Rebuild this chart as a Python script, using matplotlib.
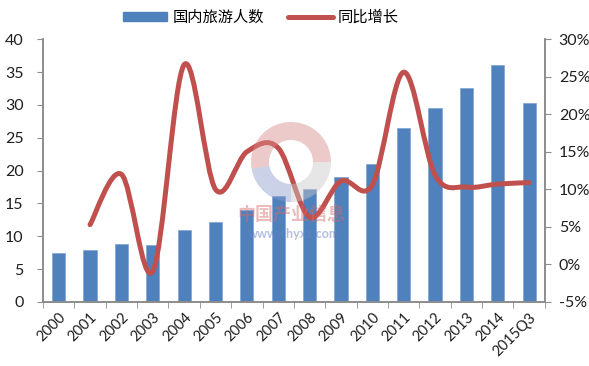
import numpy as np
import matplotlib.pyplot as plt
from matplotlib.path import Path
from matplotlib.patches import PathPatch, Wedge, Patch
from matplotlib.lines import Line2D

plt.rcParams['font.family'] = ['Lato', 'Noto Sans CJK SC', 'DejaVu Sans']

years = ['2000', '2001', '2002', '2003', '2004', '2005', '2006', '2007',
         '2008', '2009', '2010', '2011', '2012', '2013', '2014', '2015Q3']
# 国内旅游人数（亿人次）
trips = [7.44, 7.84, 8.78, 8.70, 11.02, 12.12, 13.94, 16.10,
         17.12, 19.02, 21.03, 26.41, 29.57, 32.62, 36.11, 30.34]
# 同比增长 (%), 2001 起
growth = [5.3, 12.0, -0.9, 26.6, 10.0, 15.0, 15.5,
          6.3, 11.1, 10.6, 25.6, 11.9, 10.3, 10.7, 10.9]

BLUE = '#4F81BD'
RED = '#C0504D'
AXC = '#8C8C8C'
TXT = '#1F1F1F'

fig = plt.figure(figsize=(5.89, 3.66), dpi=100)
ax = fig.add_axes([0.073, 0.175, 0.852, 0.718])
ax2 = ax.twinx()

x = np.arange(len(years))
ax.bar(x, trips, width=0.42, color=BLUE, edgecolor='#7FA3D4', linewidth=0.5, zorder=2)
ax.set_xlim(-0.5, len(years) - 0.5)
ax.set_ylim(0, 40)
ax.set_yticks(range(0, 41, 5))
ax.set_xticks(x)
ax.set_xticklabels(years, rotation=45, ha='right', va='top', rotation_mode='anchor',
                   fontsize=10.5, color=TXT)
ax.set_xticks(np.arange(-0.5, len(years)), minor=True)
ax.tick_params(axis='x', which='major', length=0, pad=6)
ax.tick_params(axis='x', which='minor', length=4, color=AXC, direction='out')
ax.tick_params(axis='y', length=4, color=AXC, labelsize=11.5, pad=10, labelcolor=TXT)

# smoothed line (Excel style Bezier) from growth values
gx = x[1:].astype(float)
gy = np.array(growth, dtype=float)
pts = np.column_stack([gx, gy])
verts = [tuple(pts[0])]
codes = [Path.MOVETO]
n = len(pts)
for i in range(n - 1):
    p0 = pts[i - 1] if i > 0 else pts[i]
    p1 = pts[i]
    p2 = pts[i + 1]
    p3 = pts[i + 2] if i + 2 < n else pts[i + 1]
    c1 = p1 + (p2 - p0) / 6
    c2 = p2 - (p3 - p1) / 6
    verts += [tuple(c1), tuple(c2), tuple(p2)]
    codes += [Path.CURVE4] * 3
ax2.add_patch(PathPatch(Path(verts, codes), facecolor='none', edgecolor=RED,
                        lw=3.6, capstyle='round', joinstyle='round', zorder=3))
ax2.set_ylim(-5, 30)
ax2.set_yticks(range(-5, 31, 5))
ax2.set_yticklabels([f'{v}%' for v in range(-5, 31, 5)])
ax2.tick_params(axis='y', length=4, color=AXC, labelsize=11.5, pad=6, labelcolor=TXT)

for a in (ax, ax2):
    a.spines['top'].set_visible(False)
    for s in ('left', 'right', 'bottom'):
        a.spines[s].set_color(AXC)
        a.spines[s].set_linewidth(1.2)

# watermark
wax = fig.add_axes([0, 0, 1, 1], facecolor='none')
wax.set_xlim(0, 589)
wax.set_ylim(366, 0)
wax.axis('off')
for th1, th2, col in [(170, 360, '#D98A8A'), (90, 170, '#8C9BCB'), (0, 90, '#C8C8C8')]:
    wax.add_patch(Wedge((291, 162), 40, th1, th2, width=18, facecolor=col, alpha=0.45,
                        edgecolor='none', zorder=5))
wax.text(291, 215, '中国产业信息', ha='center', va='center', fontsize=13,
         color='#D46A6A', alpha=0.45, fontweight='bold', zorder=5)
wax.text(294, 234, 'www.chyxx.com', ha='center', va='center', fontsize=9,
         color='#6A7FC4', alpha=0.5, fontweight='bold', zorder=5)

handles = [Patch(facecolor=BLUE, edgecolor=BLUE),
           Line2D([0], [0], color=RED, lw=3.6, solid_capstyle='round')]
fig.legend(handles, ['国内旅游人数', '同比增长'], loc='center', bbox_to_anchor=(0.443, 0.952),
           ncol=2, frameon=False, handlelength=2.9, handleheight=0.55,
           columnspacing=1.6, handletextpad=0.35, prop={'family': ['Noto Sans CJK SC'], 'size': 11})

fig.savefig('out.png', dpi=100)
